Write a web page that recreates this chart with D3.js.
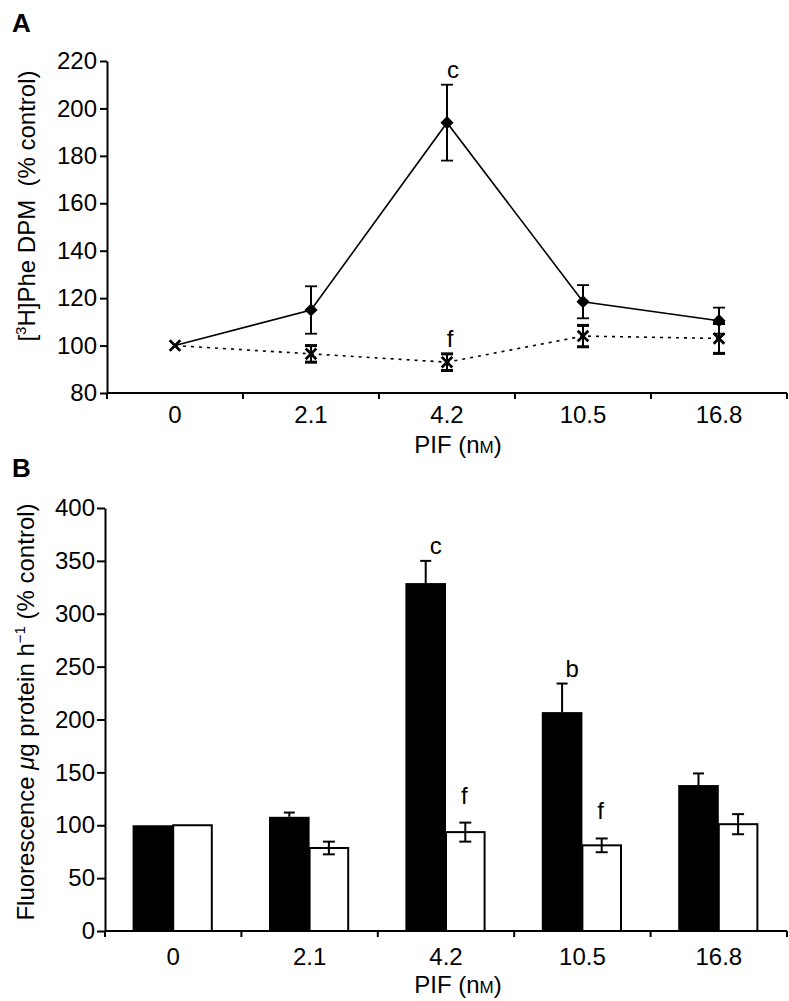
<!DOCTYPE html>
<html>
<head>
<meta charset="utf-8">
<script src="https://cdn.jsdelivr.net/npm/d3@7"></script>
<style>
  body { margin: 0; background: #fff; }
  text { font-family: "Liberation Sans", Arial, sans-serif; fill: #000; }
</style>
</head>
<body>
<svg id="fig" width="789" height="1001"></svg>
<script>
// PIF concentrations (nM)
var doses = ["0", "2.1", "4.2", "10.5", "16.8"];

// panel A: [3H]Phe DPM, % control
var pheMean = [100, 115, 194, 118.5, 110.5];
var pheErr = [0, 10, 16, 7, 5.5];
var pheCtrlMean = [100, 96.5, 93, 104, 103];
var pheCtrlErr = [0, 3.5, 3.5, 4.5, 6.3];
var ticksA = [80, 100, 120, 140, 160, 180, 200, 220];

// panel B: fluorescence per ug protein per h, % control
var fluoMean = [100, 108, 329, 207, 138];
var fluoErr = [0, 4, 21, 27, 11];
var fluoCtrlMean = [100, 78.5, 93.5, 81, 101];
var fluoCtrlErr = [0, 6, 9, 6.5, 9.5];
var ticksB = [0, 50, 100, 150, 200, 250, 300, 350, 400];

// significance letters: [dose index, series, letter]
var notesA = [[2, "pif", "c"], [2, "ctrl", "f"]];
var notesB = [[2, "pif", "c"], [2, "ctrl", "f"], [3, "pif", "b"], [3, "ctrl", "f"]];

var svg = d3.select("#fig");

// ---------- panel A ----------
var xA = d3.scaleBand().domain(doses).range([107, 787]);
var yA = d3.scaleLinear().domain([80, 220]).range([393, 61]);
var cx = function(i) { return xA(doses[i]) + xA.bandwidth() / 2; };

var gA = svg.append("g");

gA.append("g")
    .attr("transform", "translate(107,0)")
    .call(d3.axisLeft(yA).tickValues(ticksA).tickSize(7).tickSizeOuter(0).tickPadding(3))
    .call(styleAxis);

drawXAxis(gA, xA, 393, 30);

// solid line (PIF)
gA.append("path")
    .datum(pheMean)
    .attr("fill", "none").attr("stroke", "#000").attr("stroke-width", 1.6)
    .attr("d", d3.line().x(function(d, i) { return cx(i); }).y(function(d) { return yA(d); }));

// dotted line (control)
gA.append("path")
    .datum(pheCtrlMean)
    .attr("fill", "none").attr("stroke", "#000").attr("stroke-width", 1.6)
    .attr("stroke-dasharray", "3,5")
    .attr("d", d3.line().x(function(d, i) { return cx(i); }).y(function(d) { return yA(d); }));

// error bars
errBars(gA, pheMean, pheErr, cx, yA, 12, 1.8, true);
errBars(gA, pheCtrlMean, pheCtrlErr, cx, yA, 12, 3, true);

// diamond markers
gA.selectAll(".dia").data(pheMean).enter()
  .filter(function(d, i) { return i > 0; })
  .append("path")
    .attr("d", d3.symbol().type(d3.symbolDiamond2).size(110))
    .attr("transform", function(d, i) { return "translate(" + cx(i + 1) + "," + yA(d) + ")"; })
    .attr("fill", "#000");

// x markers
gA.selectAll(".xm").data(pheCtrlMean).enter().append("path")
    .attr("d", d3.symbol().type(d3.symbolX).size(75))
    .attr("transform", function(d, i) { return "translate(" + cx(i) + "," + yA(d) + ")"; })
    .attr("fill", "none").attr("stroke", "#000").attr("stroke-width", 2.8);

notesA.forEach(function(n) {
  var i = n[0];
  var top = n[1] == "pif" ? pheMean[i] + pheErr[i] : pheCtrlMean[i] + pheCtrlErr[i];
  gA.append("text")
      .attr("x", cx(i) + (n[1] == "pif" ? 6 : 3))
      .attr("y", yA(top) - 7)
      .attr("text-anchor", "middle")
      .style("font-size", "24px")
      .text(n[2]);
});

gA.append("text").attr("x", 12).attr("y", 32)
    .style("font-size", "26px").style("font-weight", "bold").text("A");

var tA = gA.append("text")
    .attr("transform", "translate(35,206) rotate(-90)")
    .attr("text-anchor", "middle")
    .style("font-size", "24px");
tA.append("tspan").text("[");
tA.append("tspan").attr("dy", -9).style("font-size", "15px").text("3");
tA.append("tspan").attr("dy", 9).text("H]Phe DPM\u00a0\u00a0(% control)");

pifLabel(gA, 453);

// ---------- panel B ----------
var xB = d3.scaleBand().domain(doses).range([105, 787]);
var sub = d3.scaleBand().domain(["pif", "ctrl"]).range([0, xB.bandwidth()]).paddingOuter(0.68);
var yB = d3.scaleLinear().domain([0, 400]).range([931, 508]);
var bx = function(i, s) { return xB(doses[i]) + sub(s) + sub.bandwidth() / 2; };

var gB = svg.append("g");

gB.selectAll(".barP").data(fluoMean).enter().append("rect")
    .attr("x", function(d, i) { return xB(doses[i]) + sub("pif"); })
    .attr("y", function(d) { return yB(d); })
    .attr("width", sub.bandwidth())
    .attr("height", function(d) { return yB(0) - yB(d); })
    .attr("fill", "#000");

gB.selectAll(".barC").data(fluoCtrlMean).enter().append("rect")
    .attr("x", function(d, i) { return xB(doses[i]) + sub("ctrl"); })
    .attr("y", function(d) { return yB(d); })
    .attr("width", sub.bandwidth() - 2)
    .attr("height", function(d) { return yB(0) - yB(d); })
    .attr("fill", "#fff").attr("stroke", "#000").attr("stroke-width", 2);

errBars(gB, fluoMean, fluoErr, function(i) { return bx(i, "pif"); }, yB, 11, 2, false);
errBars(gB, fluoCtrlMean, fluoCtrlErr, function(i) { return bx(i, "ctrl") - 1; }, yB, 12, 2, true);

gB.append("g")
    .attr("transform", "translate(105,0)")
    .call(d3.axisLeft(yB).tickValues(ticksB).tickSize(8).tickSizeOuter(0).tickPadding(2))
    .call(styleAxis);

drawXAxis(gB, xB, 931, 34);

notesB.forEach(function(n) {
  var i = n[0];
  var pif = n[1] == "pif";
  var top = pif ? fluoMean[i] + fluoErr[i] : fluoCtrlMean[i] + fluoCtrlErr[i];
  gB.append("text")
      .attr("x", bx(i, n[1]) + (pif ? 10 : -2))
      .attr("y", yB(top) - (pif ? 7 : 19))
      .attr("text-anchor", "middle")
      .style("font-size", "24px")
      .text(n[2]);
});

gB.append("text").attr("x", 12).attr("y", 477)
    .style("font-size", "26px").style("font-weight", "bold").text("B");

var tB = gB.append("text")
    .attr("transform", "translate(34,712) rotate(-90)")
    .attr("text-anchor", "middle")
    .style("font-size", "24px");
tB.append("tspan").text("Fluorescence ");
tB.append("tspan").style("font-style", "italic").text("\u03bc");
tB.append("tspan").text("g protein h");
tB.append("tspan").attr("dy", -9).style("font-size", "15px").text("\u22121");
tB.append("tspan").attr("dy", 9).text("\u00a0(% control)");

pifLabel(gB, 993);

// ---------- helpers ----------
function styleAxis(g) {
  g.select(".domain").attr("stroke-width", 2);
  g.selectAll(".tick line").attr("stroke-width", 2);
  g.selectAll(".tick text").style("font-size", "24px").style("font-family", "Liberation Sans, Arial, sans-serif");
}

function drawXAxis(g, x, y0, labelOff) {
  var r = x.range();
  g.append("line").attr("x1", r[0]).attr("x2", r[1]).attr("y1", y0).attr("y2", y0)
      .attr("stroke", "#000").attr("stroke-width", 2);
  var edges = doses.map(function(d) { return x(d); }).concat([r[1]]);
  g.selectAll(null).data(edges).enter().append("line")
      .attr("x1", function(d) { return d; }).attr("x2", function(d) { return d; })
      .attr("y1", y0).attr("y2", y0 + 6)
      .attr("stroke", "#000").attr("stroke-width", 2);
  g.selectAll(null).data(doses).enter().append("text")
      .attr("x", function(d) { return x(d) + x.bandwidth() / 2; })
      .attr("y", y0 + labelOff)
      .attr("text-anchor", "middle")
      .style("font-size", "24px")
      .text(function(d) { return d; });
}

function errBars(g, mean, err, xf, y, capW, sw, both) {
  mean.forEach(function(m, i) {
    if (!err[i]) return;
    var x = xf(i);
    var lo = both ? m - err[i] : m;
    var hi = m + err[i];
    g.append("line").attr("x1", x).attr("x2", x).attr("y1", y(lo)).attr("y2", y(hi))
        .attr("stroke", "#000").attr("stroke-width", 2);
    g.append("line").attr("x1", x - capW / 2).attr("x2", x + capW / 2).attr("y1", y(hi)).attr("y2", y(hi))
        .attr("stroke", "#000").attr("stroke-width", sw);
    if (both) {
      g.append("line").attr("x1", x - capW / 2).attr("x2", x + capW / 2).attr("y1", y(lo)).attr("y2", y(lo))
          .attr("stroke", "#000").attr("stroke-width", sw);
    }
  });
}

function pifLabel(g, yBase) {
  var t = g.append("text").attr("x", 458).attr("y", yBase)
      .attr("text-anchor", "middle").style("font-size", "24px");
  t.append("tspan").text("PIF (n");
  t.append("tspan").style("font-size", "17px").text("M");
  t.append("tspan").text(")");
}
</script>
</body>
</html>
